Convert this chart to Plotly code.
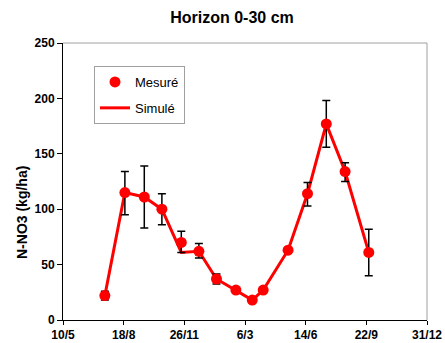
import plotly.graph_objects as go

# Data
dates = ["1998-07-18", "1998-08-20", "1998-09-21", "1998-10-20", "1998-11-21",
         "1998-12-20", "1999-01-18", "1999-02-19", "1999-03-18", "1999-04-05",
         "1999-05-16", "1999-06-17", "1999-07-18", "1999-08-18", "1999-09-26"]
mesure = [22, 115, 111, 100, 70, 62, 37, 27, 18, 27, 63, 114, 177, 134, 61]
err_plus = [4, 19, 28, 14, 10, 7, 4.5, 0, 0, 0, 0, 10, 21, 8, 21]
err_minus = [4, 20, 28, 14, 9, 6, 4.5, 0, 0, 0, 0, 11, 21, 9, 21]
simule = [22, 115, 111, 100, 61, 62, 37, 27, 18, 27, 63, 114, 177, 134, 61]

tick_vals = ["1998-05-10", "1998-08-18", "1998-11-26", "1999-03-06",
             "1999-06-14", "1999-09-22", "1999-12-31"]
tick_text = ["10/5", "18/8", "26/11", "6/3", "14/6", "22/9", "31/12"]

FONT = "Liberation Sans, Arial, sans-serif"

fig = go.Figure()
fig.add_trace(go.Scatter(
    x=dates, y=simule, mode="lines", name="Simulé",
    line=dict(color="#FF0000", width=3), legendgroup="b", legendrank=2))
fig.add_trace(go.Scatter(
    x=dates, y=mesure, mode="markers", name="Mesuré",
    marker=dict(color="#FF0000", size=11),
    error_y=dict(type="data", array=err_plus, arrayminus=err_minus,
                 color="black", thickness=1.5, width=4),
    legendgroup="a", legendrank=1))

fig.update_layout(
    width=445, height=343,
    margin=dict(l=63, r=18, t=43, b=23),
    paper_bgcolor="white", plot_bgcolor="white",
    font=dict(family=FONT, color="black"),
    title=dict(text="Horizon 0-30 cm", x=232/445, xanchor="center",
               y=1-17/343, yanchor="middle", xref="container", yref="container",
               font=dict(size=16, weight="bold")),
    showlegend=True,
    legend=dict(x=(94-63)/364, y=(320-66)/277, xanchor="left", yanchor="top",
                bgcolor="white", bordercolor="#A0A0A0", borderwidth=1,
                font=dict(size=13), traceorder="grouped", tracegroupgap=6),
    xaxis=dict(type="date", range=["1998-05-10", "1999-12-31"],
               tickmode="array", tickvals=tick_vals, ticktext=tick_text,
               showgrid=False, zeroline=False, showline=True, linecolor="black",
               linewidth=1, ticks="outside", ticklen=4, tickcolor="black",
               automargin=False,
               tickfont=dict(size=12, weight="bold")),
    yaxis=dict(range=[0, 250], dtick=50, showgrid=False, zeroline=False,
               showline=True, linecolor="black", linewidth=1,
               ticks="outside", ticklen=5, tickcolor="black", automargin=False,
               tickfont=dict(size=12, weight="bold")),
    shapes=[
        dict(type="line", xref="paper", yref="paper", x0=0, x1=1, y0=1, y1=1,
             line=dict(color="#A0A0A0", width=1)),
        dict(type="line", xref="paper", yref="paper", x0=1, x1=1, y0=0, y1=1,
             line=dict(color="#A0A0A0", width=1)),
    ],
    annotations=[dict(text="N-NO3 (kg/ha)", xref="paper", yref="paper",
                      x=(22-63)/364, y=(320-213)/277, textangle=-90,
                      showarrow=False, xanchor="center", yanchor="middle",
                      font=dict(size=14, weight="bold"))],
)

fig.write_html("out.html")
